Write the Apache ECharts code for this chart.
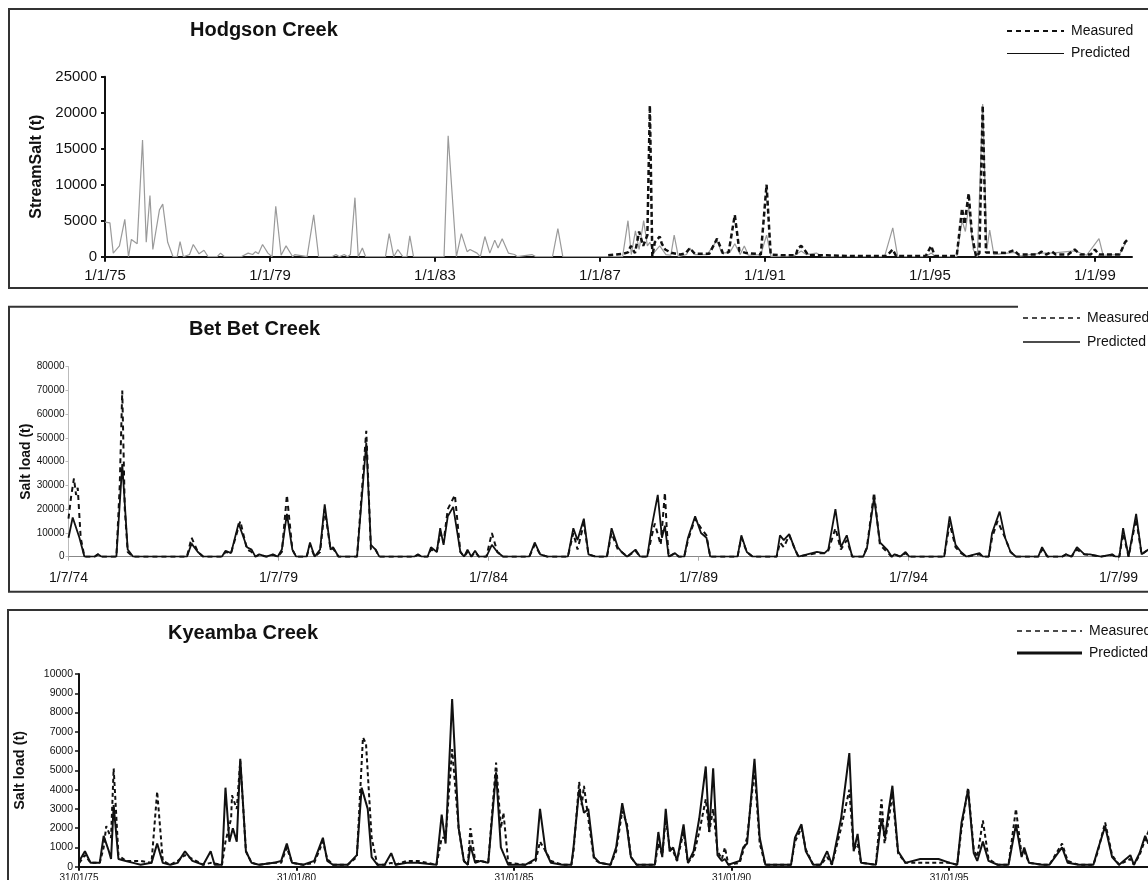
<!DOCTYPE html>
<html><head><meta charset="utf-8">
<script src="https://cdn.jsdelivr.net/npm/echarts@6/dist/echarts.min.js"></script>
<style>
html,body{margin:0;padding:0;background:#fff;overflow:hidden;width:1148px;height:880px;}
.c{position:absolute;left:0;width:1175px;}
</style></head>
<body>
<div id="c1" class="c" style="top:0;height:295px"></div>
<div id="c2" class="c" style="top:295px;height:305px"></div>
<div id="c3" class="c" style="top:600px;height:280px"></div>
<script>
// ---- data: [decimal year, tonnes] ----
var hodgsonTicks = [1975,1979,1983,1987,1991,1995,1999];
var betbetTicks = [1974.5,1979.5,1984.5,1989.5,1994.5,1999.5];
var kyeambaTicks = [1975.0833,1980.0833,1985.0833,1990.0833,1995.0833];

var hodgsonPredicted = [[1975.0,4800],[1975.12,4700],[1975.2,500],[1975.35,1500],[1975.48,5200],[1975.57,0],[1975.64,2400],[1975.78,1800],[1975.91,16200],[1976.0,2000],[1976.09,8500],[1976.16,1000],[1976.32,6500],[1976.4,7300],[1976.52,2000],[1976.65,0],[1976.75,0],[1976.82,2100],[1976.9,0],[1977.05,300],[1977.14,1700],[1977.28,400],[1977.4,900],[1977.5,0],[1977.72,0],[1977.8,500],[1977.9,0],[1978.3,0],[1978.47,500],[1978.58,300],[1978.65,700],[1978.72,400],[1978.82,1700],[1978.95,500],[1979.05,0],[1979.14,7000],[1979.27,200],[1979.39,1500],[1979.55,0],[1979.6,300],[1979.9,0],[1980.06,5800],[1980.18,0],[1980.5,0],[1980.6,300],[1980.68,0],[1980.8,300],[1980.88,0],[1980.95,300],[1981.06,8200],[1981.14,0],[1981.24,1200],[1981.32,0],[1981.8,0],[1981.89,3200],[1982.0,0],[1982.1,1000],[1982.22,0],[1982.32,0],[1982.39,2900],[1982.48,0],[1983.22,0],[1983.32,16800],[1983.52,0],[1983.64,3200],[1983.78,700],[1983.85,1000],[1984.02,500],[1984.1,0],[1984.21,2800],[1984.33,500],[1984.45,2300],[1984.53,1200],[1984.63,2500],[1984.78,500],[1984.93,300],[1985.0,0],[1985.35,300],[1985.45,0],[1985.85,0],[1985.98,3900],[1986.1,0],[1987.55,0],[1987.68,5000],[1987.76,300],[1987.86,3600],[1987.95,1000],[1988.06,5000],[1988.15,1500],[1988.21,2000],[1988.3,500],[1988.45,1500],[1988.6,300],[1988.72,200],[1988.8,3000],[1988.9,0],[1989.1,300],[1989.18,1200],[1989.3,300],[1989.6,300],[1989.84,2300],[1989.95,500],[1990.15,600],[1990.27,1800],[1990.4,300],[1990.5,1500],[1990.6,200],[1990.9,300],[1991.04,3000],[1991.15,0],[1991.7,100],[1991.88,800],[1992.0,300],[1992.25,500],[1992.4,0],[1993.9,0],[1994.1,4000],[1994.22,0],[1994.9,0],[1995.03,500],[1995.15,0],[1995.65,0],[1995.78,5000],[1995.86,3500],[1995.94,7000],[1996.05,1000],[1996.15,0],[1996.28,21200],[1996.38,1000],[1996.45,3700],[1996.55,300],[1997.04,600],[1997.2,100],[1997.7,500],[1997.96,500],[1998.51,800],[1998.8,200],[1999.1,2500],[1999.2,200],[1999.6,300],[1999.73,1800]];

var hodgsonMeasured = [[1987.2,200],[1987.4,300],[1987.55,400],[1987.68,600],[1987.75,1500],[1987.85,500],[1987.95,3500],[1988.05,1500],[1988.15,3000],[1988.21,21000],[1988.27,0],[1988.33,2000],[1988.45,2800],[1988.5,1800],[1988.58,1000],[1988.75,500],[1988.95,300],[1989.08,500],[1989.18,1200],[1989.3,400],[1989.65,400],[1989.84,2500],[1989.98,500],[1990.12,600],[1990.27,5800],[1990.38,800],[1990.55,500],[1990.8,400],[1990.9,300],[1991.04,10000],[1991.14,300],[1991.4,200],[1991.75,200],[1991.8,1200],[1991.88,1500],[1991.98,800],[1992.05,200],[1992.5,200],[1993.0,100],[1993.5,100],[1993.95,100],[1994.1,1000],[1994.18,100],[1994.9,100],[1995.03,1500],[1995.12,100],[1995.65,100],[1995.78,6700],[1995.84,4500],[1995.94,8800],[1996.02,3000],[1996.12,0],[1996.2,500],[1996.28,21000],[1996.36,600],[1996.5,600],[1996.85,500],[1997.04,900],[1997.15,300],[1997.6,300],[1997.7,700],[1997.82,300],[1997.96,700],[1998.05,300],[1998.35,300],[1998.51,1000],[1998.65,300],[1998.9,300],[1999.0,1000],[1999.1,300],[1999.6,300],[1999.73,2000],[1999.78,2300]];

var betbetMeasured = [[1974.5,16000],[1974.56,25000],[1974.63,33000],[1974.68,26000],[1974.72,29000],[1974.79,8000],[1974.88,0],[1975.12,0],[1975.2,1000],[1975.29,0],[1975.64,0],[1975.72,30000],[1975.78,70000],[1975.84,20000],[1975.91,2000],[1976.04,0],[1977.32,0],[1977.43,8000],[1977.58,2000],[1977.71,0],[1978.15,0],[1978.24,2000],[1978.37,1500],[1978.59,15000],[1978.75,3000],[1978.86,2000],[1978.95,0],[1979.04,800],[1979.21,0],[1979.37,800],[1979.48,0],[1979.58,2000],[1979.7,26000],[1979.83,3000],[1979.92,0],[1980.17,0],[1980.25,5000],[1980.36,0],[1980.49,2000],[1980.6,20000],[1980.74,3000],[1980.8,3500],[1980.93,0],[1981.37,0],[1981.59,53000],[1981.7,3000],[1981.81,3000],[1981.9,0],[1982.73,0],[1982.82,800],[1982.91,0],[1983.05,0],[1983.13,3000],[1983.27,2000],[1983.35,10000],[1983.43,6000],[1983.53,20000],[1983.7,26000],[1983.83,2000],[1983.92,0],[1984.0,2000],[1984.09,0],[1984.18,2000],[1984.27,0],[1984.45,0],[1984.58,10000],[1984.71,2000],[1984.85,0],[1985.47,0],[1985.6,5000],[1985.73,1000],[1985.9,0],[1986.39,0],[1986.52,10000],[1986.62,3000],[1986.77,14000],[1986.88,1000],[1987.05,0],[1987.32,0],[1987.43,10000],[1987.58,3000],[1987.67,2000],[1987.8,0],[1988.0,2500],[1988.11,0],[1988.28,0],[1988.39,9000],[1988.46,14000],[1988.6,5000],[1988.7,27000],[1988.74,13000],[1988.79,0],[1988.94,1500],[1989.03,0],[1989.16,0],[1989.25,7000],[1989.42,16000],[1989.56,12000],[1989.69,9000],[1989.78,0],[1990.43,0],[1990.52,8000],[1990.65,2000],[1990.79,0],[1991.36,0],[1991.44,6000],[1991.53,4000],[1991.66,9000],[1991.8,3000],[1991.88,0],[1992.32,1500],[1992.5,1500],[1992.59,2500],[1992.76,12000],[1992.89,3000],[1993.03,7000],[1993.16,0],[1993.42,0],[1993.51,4000],[1993.68,27000],[1993.82,5000],[1993.99,2000],[1994.1,0],[1994.17,1000],[1994.3,0],[1994.43,1500],[1994.52,0],[1995.35,0],[1995.48,14000],[1995.62,4000],[1995.75,1500],[1995.88,0],[1996.19,1000],[1996.27,0],[1996.41,0],[1996.49,8000],[1996.62,15000],[1996.8,8000],[1996.93,2000],[1997.06,0],[1997.59,0],[1997.68,3000],[1997.81,0],[1998.16,0],[1998.25,1000],[1998.38,0],[1998.51,3000],[1998.69,1000],[1998.82,800],[1999.08,0],[1999.35,800],[1999.43,0],[1999.52,0],[1999.61,10000],[1999.74,0],[1999.92,16000],[2000.05,1000],[2000.21,3000]];

var betbetPredicted = [[1974.5,8000],[1974.6,16500],[1974.76,8000],[1974.88,0],[1975.12,0],[1975.2,1000],[1975.29,0],[1975.64,0],[1975.78,39000],[1975.91,3000],[1976.04,0],[1977.32,0],[1977.43,5500],[1977.58,2000],[1977.71,0],[1978.15,0],[1978.24,2500],[1978.37,1500],[1978.55,14000],[1978.75,4000],[1978.86,3000],[1978.95,0],[1979.04,1000],[1979.21,0],[1979.37,1000],[1979.48,0],[1979.58,3000],[1979.7,18000],[1979.83,3000],[1979.92,0],[1980.17,0],[1980.25,6000],[1980.36,0],[1980.49,3000],[1980.6,22000],[1980.74,3000],[1980.8,4000],[1980.93,0],[1981.37,0],[1981.59,48000],[1981.7,5000],[1981.81,3000],[1981.9,0],[1982.73,0],[1982.82,1000],[1982.91,0],[1983.05,0],[1983.13,4000],[1983.27,2000],[1983.35,12000],[1983.43,5000],[1983.53,17000],[1983.66,21000],[1983.83,2000],[1983.92,0],[1984.0,3000],[1984.09,0],[1984.18,2500],[1984.27,0],[1984.45,0],[1984.58,5000],[1984.71,2000],[1984.85,0],[1985.47,0],[1985.6,6000],[1985.73,1000],[1985.9,0],[1986.39,0],[1986.52,12000],[1986.62,7000],[1986.77,16000],[1986.88,1000],[1987.05,0],[1987.32,0],[1987.43,12000],[1987.58,4000],[1987.67,2000],[1987.8,0],[1988.0,3000],[1988.11,0],[1988.28,0],[1988.39,13000],[1988.53,26000],[1988.63,8000],[1988.7,13000],[1988.79,0],[1988.94,1500],[1989.03,0],[1989.16,0],[1989.25,8000],[1989.42,17000],[1989.56,10000],[1989.69,8000],[1989.78,0],[1990.43,0],[1990.52,9000],[1990.65,2000],[1990.79,0],[1991.36,0],[1991.44,9000],[1991.53,7000],[1991.66,9500],[1991.8,3000],[1991.88,0],[1992.32,2000],[1992.5,1500],[1992.59,3000],[1992.76,20000],[1992.89,4000],[1993.03,9000],[1993.16,0],[1993.42,0],[1993.51,3500],[1993.68,25000],[1993.82,6000],[1993.99,3000],[1994.1,0],[1994.17,1000],[1994.3,0],[1994.43,2000],[1994.52,0],[1995.35,0],[1995.48,17000],[1995.62,5000],[1995.75,2000],[1995.88,0],[1996.19,1500],[1996.27,0],[1996.41,0],[1996.49,10000],[1996.67,19000],[1996.8,8000],[1996.93,2000],[1997.06,0],[1997.59,0],[1997.68,4000],[1997.81,0],[1998.16,0],[1998.25,1000],[1998.38,0],[1998.51,4000],[1998.69,1000],[1998.82,1000],[1999.08,0],[1999.35,1000],[1999.43,0],[1999.52,0],[1999.61,12000],[1999.74,0],[1999.92,18000],[2000.05,1000],[2000.21,3000]];

var kyeambaPredicted = [[1975.09,300],[1975.22,800],[1975.35,200],[1975.56,200],[1975.65,1600],[1975.77,800],[1975.82,400],[1975.88,3200],[1975.99,400],[1976.16,300],[1976.33,200],[1976.5,100],[1976.75,200],[1976.88,1200],[1977.01,200],[1977.18,100],[1977.35,200],[1977.52,800],[1977.69,300],[1977.94,100],[1978.11,800],[1978.2,100],[1978.37,100],[1978.45,4100],[1978.54,1300],[1978.62,2000],[1978.71,1300],[1978.79,5600],[1978.92,800],[1979.05,200],[1979.22,100],[1979.56,200],[1979.73,300],[1979.86,1200],[1979.98,200],[1980.24,100],[1980.49,300],[1980.69,1500],[1980.79,300],[1980.92,100],[1981.26,100],[1981.47,600],[1981.58,4100],[1981.72,3000],[1981.81,500],[1981.94,100],[1982.11,100],[1982.26,700],[1982.36,100],[1982.62,200],[1982.87,200],[1983.3,100],[1983.42,2700],[1983.51,1200],[1983.66,8700],[1983.81,2000],[1983.93,300],[1984.02,100],[1984.08,1100],[1984.19,200],[1984.32,300],[1984.49,200],[1984.67,4900],[1984.78,1000],[1984.95,100],[1985.34,100],[1985.58,400],[1985.68,3000],[1985.81,800],[1985.93,200],[1986.19,100],[1986.4,100],[1986.45,1000],[1986.58,4000],[1986.69,2800],[1986.79,3000],[1986.92,500],[1987.05,200],[1987.3,100],[1987.43,1000],[1987.57,3300],[1987.68,2000],[1987.77,500],[1987.9,100],[1988.32,100],[1988.4,1800],[1988.49,500],[1988.57,3000],[1988.66,800],[1988.74,1000],[1988.83,300],[1988.98,2200],[1989.08,200],[1989.21,800],[1989.34,2500],[1989.49,5200],[1989.57,1800],[1989.66,5100],[1989.76,600],[1989.86,300],[1989.93,400],[1990.01,100],[1990.27,300],[1990.35,1000],[1990.44,1200],[1990.61,5600],[1990.73,1500],[1990.86,100],[1991.45,100],[1991.54,1500],[1991.69,2200],[1991.79,800],[1991.96,100],[1992.13,100],[1992.28,800],[1992.39,100],[1992.6,2500],[1992.79,5900],[1992.89,800],[1992.98,1700],[1993.06,200],[1993.4,100],[1993.53,2500],[1993.61,1500],[1993.7,3000],[1993.78,4200],[1993.91,800],[1994.08,200],[1994.42,400],[1994.84,400],[1995.1,200],[1995.27,100],[1995.37,2300],[1995.52,4000],[1995.65,700],[1995.73,300],[1995.86,1300],[1995.99,300],[1996.2,100],[1996.45,100],[1996.62,2200],[1996.75,500],[1996.81,1000],[1996.92,200],[1997.22,100],[1997.39,100],[1997.68,1000],[1997.81,200],[1998.06,100],[1998.4,100],[1998.49,800],[1998.67,2100],[1998.83,500],[1998.99,100],[1999.25,600],[1999.33,100],[1999.46,700],[1999.59,1600],[1999.66,1200],[1999.75,2200],[1999.85,1500]];

var kyeambaMeasured = [[1975.09,200],[1975.22,600],[1975.35,200],[1975.56,200],[1975.65,1000],[1975.71,2100],[1975.82,1500],[1975.88,5100],[1975.99,600],[1976.16,300],[1976.33,300],[1976.5,300],[1976.75,200],[1976.88,3900],[1977.01,300],[1977.18,100],[1977.35,300],[1977.52,600],[1977.69,400],[1977.94,100],[1978.11,200],[1978.37,100],[1978.45,1300],[1978.58,2500],[1978.6,3700],[1978.71,3000],[1978.79,5500],[1978.92,800],[1979.05,200],[1979.22,100],[1979.56,200],[1979.73,200],[1979.86,1000],[1979.98,200],[1980.24,100],[1980.49,200],[1980.69,1300],[1980.79,400],[1980.92,100],[1981.26,100],[1981.47,500],[1981.61,6700],[1981.68,6400],[1981.81,1500],[1981.94,100],[1982.11,100],[1982.26,200],[1982.36,100],[1982.62,300],[1982.87,300],[1983.3,100],[1983.42,1500],[1983.51,1500],[1983.66,6100],[1983.81,2000],[1983.93,300],[1984.02,100],[1984.08,2000],[1984.19,300],[1984.32,300],[1984.49,200],[1984.67,5400],[1984.78,2000],[1984.84,2800],[1984.95,200],[1985.34,100],[1985.58,300],[1985.68,1300],[1985.81,800],[1985.93,300],[1986.19,100],[1986.4,100],[1986.45,800],[1986.58,4400],[1986.64,3200],[1986.69,4200],[1986.79,2500],[1986.92,400],[1987.05,200],[1987.3,100],[1987.43,800],[1987.57,2900],[1987.68,2200],[1987.77,500],[1987.9,100],[1988.32,100],[1988.4,1200],[1988.49,600],[1988.57,2500],[1988.66,1000],[1988.74,800],[1988.83,300],[1988.98,1800],[1989.08,200],[1989.21,600],[1989.34,1800],[1989.49,3500],[1989.57,1800],[1989.66,3000],[1989.76,800],[1989.86,400],[1989.93,1000],[1990.01,100],[1990.27,200],[1990.35,800],[1990.44,1500],[1990.61,5000],[1990.73,1200],[1990.86,100],[1991.45,100],[1991.54,1300],[1991.69,2000],[1991.79,900],[1991.96,100],[1992.13,100],[1992.28,500],[1992.39,100],[1992.6,2000],[1992.79,4000],[1992.89,900],[1992.98,1200],[1993.06,200],[1993.4,100],[1993.53,3500],[1993.6,1200],[1993.7,2500],[1993.78,3800],[1993.91,700],[1994.08,200],[1994.42,200],[1994.84,200],[1995.1,200],[1995.27,100],[1995.37,2000],[1995.52,4100],[1995.65,900],[1995.73,500],[1995.86,2400],[1995.99,400],[1996.2,100],[1996.45,100],[1996.62,3000],[1996.75,600],[1996.81,800],[1996.92,200],[1997.22,100],[1997.39,100],[1997.68,1200],[1997.81,300],[1998.06,100],[1998.4,100],[1998.49,700],[1998.67,2300],[1998.83,600],[1998.99,100],[1999.25,400],[1999.33,100],[1999.46,600],[1999.59,1400],[1999.66,1800],[1999.75,2500],[1999.85,1600]];

// ---- rendering ----
var FONT = '"Liberation Sans", Arial, sans-serif';
function yy(v){ var y = Math.floor(v + 0.001) % 100; return (y < 10 ? '0' : '') + y; }
function plain(v){ return String(v); }

function panel(el, cfg){
  var chart = echarts.init(document.getElementById(el), null, {renderer:'canvas'});
  var graphics = [{type:'polyline', silent:true, shape:{points:cfg.border},
      style:{fill:null, stroke:'#333', lineWidth:2}}];
  cfg.legIcons.forEach(function(g){
    graphics.push({type:'line', silent:true,
      shape:{x1:g[0], y1:g[2], x2:g[1], y2:g[2]},
      style:{stroke:'#111', lineWidth:g[3], lineDash:g[4] || null}});
  });
  var grid = cfg.grid;
  grid.outerBoundsMode = 'none';
  grid.containLabel = false;
  chart.setOption({
    animation:false,
    textStyle:{fontFamily:FONT, color:'#111'},
    title:{text:cfg.title, left:cfg.titleLeft, top:cfg.titleTop, padding:0,
      textStyle:{fontFamily:FONT, fontSize:20, fontWeight:'bold', color:'#111'}},
    legend:{orient:'vertical', left:cfg.legLeft, top:cfg.legTop, itemWidth:cfg.legW, itemHeight:14,
      itemGap:cfg.legGap, padding:0, selectedMode:false,
      textStyle:{fontFamily:FONT, fontSize:14, color:'#111', padding:[0,0,0,2]},
      data:[{name:'Measured', icon:'none'},{name:'Predicted', icon:'none'}]},
    graphic:graphics,
    grid:grid,
    xAxis:{type:'value', min:cfg.xMin, max:cfg.xMax,
      axisLine:{show:true, onZero:false, lineStyle:cfg.xLine},
      axisTick:{show:true, customValues:cfg.ticks, length:cfg.xTickLen, lineStyle:cfg.xTickStyle},
      axisLabel:{customValues:cfg.ticks, formatter:cfg.fmt, fontSize:cfg.xFont, margin:cfg.xMargin,
        color:'#111', fontFamily:FONT},
      splitLine:{show:false}},
    yAxis:{type:'value', min:0, max:cfg.yMax, interval:cfg.yInt,
      name:cfg.yName, nameLocation:'middle', nameGap:cfg.nameGap, nameRotate:90, nameMoveOverlap:false,
      nameTextStyle:{fontFamily:FONT, fontSize:cfg.nameFont, fontWeight:'bold', color:'#111'},
      axisLine:{show:true, lineStyle:cfg.yLine},
      axisTick:{show:true, length:cfg.yTickLen, lineStyle:cfg.yTickStyle},
      axisLabel:{formatter:plain, fontSize:cfg.yFont, margin:cfg.yMargin, color:'#111', fontFamily:FONT},
      splitLine:{show:false}},
    series:cfg.series
  });
}

panel('c1', {
  title:'Hodgson Creek', titleLeft:190, titleTop:20,
  legLeft:1007, legTop:24, legW:57, legGap:8,
  legIcons:[[1007,1064,31,2,[5,4]],[1007,1064,53.5,1]],
  border:[[1200,9],[9,9],[9,288],[1200,288]],
  grid:{left:105, top:76.7, width:1027, height:180},
  xMin:1975, xMax:1999.9, ticks:hodgsonTicks,
  fmt:function(v){ return '1/1/' + yy(v); },
  xLine:{color:'#111', width:2}, xTickLen:5, xTickStyle:{color:'#111', width:2},
  xFont:15, xMargin:12,
  yMax:25000, yInt:5000, yName:'StreamSalt (t)', nameGap:60, nameFont:16,
  yLine:{color:'#111', width:2}, yTickLen:4, yTickStyle:{color:'#111', width:2},
  yFont:15, yMargin:8,
  series:[
    {name:'Predicted', type:'line', data:hodgsonPredicted, symbol:'none',
      lineStyle:{color:'#9a9a9a', width:1.2}},
    {name:'Measured', type:'line', data:hodgsonMeasured, symbol:'none',
      lineStyle:{color:'#111', width:2.5, type:[5,3]}}
  ]
});

panel('c2', {
  title:'Bet Bet Creek', titleLeft:189, titleTop:24,
  legLeft:1023, legTop:16, legW:57, legGap:10,
  legIcons:[[1023,1080,23,1.5,[5,4]],[1023,1080,47,1.5]],
  border:[[1018,11.7],[9,11.7],[9,296.7],[1200,296.7]],
  grid:{left:68.5, top:71.7, width:1092, height:190},
  xMin:1974.5, xMax:2000.5, ticks:betbetTicks,
  fmt:function(v){ return '1/7/' + yy(v); },
  xLine:{color:'#888', width:1}, xTickLen:4, xTickStyle:{color:'#aaa', width:1},
  xFont:14, xMargin:14,
  yMax:80000, yInt:10000, yName:'Salt load (t)', nameGap:35, nameFont:14,
  yLine:{color:'#bbb', width:1}, yTickLen:3, yTickStyle:{color:'#bbb', width:1},
  yFont:10, yMargin:4,
  series:[
    {name:'Predicted', type:'line', data:betbetPredicted, symbol:'none',
      lineStyle:{color:'#111', width:1.8}},
    {name:'Measured', type:'line', data:betbetMeasured, symbol:'none',
      lineStyle:{color:'#111', width:2, type:[5,4]}}
  ]
});

panel('c3', {
  title:'Kyeamba Creek', titleLeft:168, titleTop:23,
  legLeft:1017, legTop:24, legW:65, legGap:8,
  legIcons:[[1017,1082,31,1.5,[5,4]],[1017,1082,53,3]],
  border:[[1200,10],[8,10],[8,300]],
  grid:{left:79, top:74, width:1084, height:192.7},
  xMin:1975.0833, xMax:2000, ticks:kyeambaTicks,
  fmt:function(v){ return '31/01/' + yy(v); },
  xLine:{color:'#111', width:2}, xTickLen:4, xTickStyle:{color:'#111', width:2},
  xFont:10, xMargin:7,
  yMax:10000, yInt:1000, yName:'Salt load (t)', nameGap:52, nameFont:14.5,
  yLine:{color:'#111', width:2}, yTickLen:4, yTickStyle:{color:'#111', width:1.5},
  yFont:10.5, yMargin:6,
  series:[
    {name:'Predicted', type:'line', data:kyeambaPredicted, symbol:'none',
      lineStyle:{color:'#111', width:2}},
    {name:'Measured', type:'line', data:kyeambaMeasured, symbol:'none',
      lineStyle:{color:'#111', width:2, type:[4,3]}}
  ]
});
</script>
</body></html>
